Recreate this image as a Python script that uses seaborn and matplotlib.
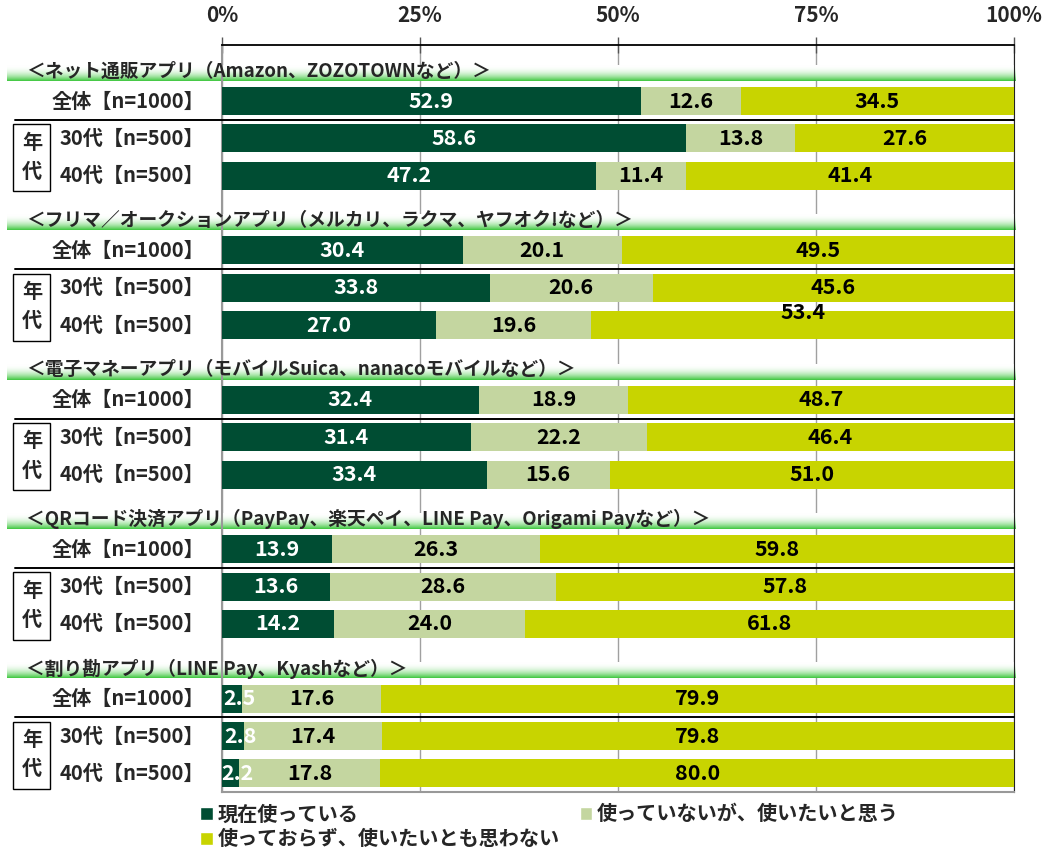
import numpy as np
import pandas as pd
import matplotlib
matplotlib.use('Agg')
import matplotlib.pyplot as plt
from matplotlib.patches import Patch, Rectangle
import seaborn as sns

categories = ['＜ネット通販アプリ（Amazon、ZOZOTOWNなど）＞',
              '＜フリマ／オークションアプリ（メルカリ、ラクマ、ヤフオク!など）＞',
              '＜電子マネーアプリ（モバイルSuica、nanacoモバイルなど）＞',
              '＜QRコード決済アプリ（PayPay、楽天ペイ、LINE Pay、Origami Payなど）＞',
              '＜割り勘アプリ（LINE Pay、Kyashなど）＞']
rows = ['全体【n=1000】', '30代【n=500】', '40代【n=500】']

using = [52.9, 58.6, 47.2, 30.4, 33.8, 27.0, 32.4, 31.4, 33.4, 13.9, 13.6, 14.2, 2.5, 2.8, 2.2]
want = [12.6, 13.8, 11.4, 20.1, 20.6, 19.6, 18.9, 22.2, 15.6, 26.3, 28.6, 24.0, 17.6, 17.4, 17.8]
no_want = [34.5, 27.6, 41.4, 49.5, 45.6, 53.4, 48.7, 46.4, 51.0, 59.8, 57.8, 61.8, 79.9, 79.8, 80.0]

series_names = ['現在使っている', '使っていないが、使いたいと思う', '使っておらず、使いたいとも思わない']
colors = ['#004d33', '#c4d6a0', '#c8d400']
tick_vals = [0, 25, 50, 75, 100]
tick_labels = ['0%', '25%', '50%', '75%', '100%']

sns.set_style('white')
plt.rcParams['font.family'] = ['Noto Sans CJK JP', 'DejaVu Sans']
plt.rcParams['font.weight'] = 'bold'

# one slot per header + one per bar
slots = []
recs = []
for gi in range(len(categories)):
    slots.append(f'h{gi}')
    recs.append(dict(slot=f'h{gi}', a=np.nan, ab=np.nan, abc=np.nan))
    for ri in range(len(rows)):
        k = gi * 3 + ri
        s = f'{gi}-{ri}'
        slots.append(s)
        recs.append(dict(slot=s, a=using[k], ab=using[k] + want[k],
                         abc=using[k] + want[k] + no_want[k]))
df = pd.DataFrame(recs)

fig = plt.figure(figsize=(10.44, 8.51), dpi=100)
ax = fig.add_axes([0.2126, 0.0693, 0.7587, 0.8778])

for col, c in zip(['abc', 'ab', 'a'], colors[::-1]):
    sns.barplot(data=df, y='slot', x=col, order=slots, color=c, width=0.75,
                saturation=1, errorbar=None, linewidth=0, ax=ax, zorder=3)

ax.set_xlim(0, 100)
ax.set_ylim(len(slots) - 0.5, -0.5)

# value labels
for gi in range(len(categories)):
    for ri in range(len(rows)):
        k = gi * 3 + ri
        y = gi * 4 + 1 + ri
        a, b, c = using[k], want[k], no_want[k]
        kw = dict(ha='center', va='center', fontsize=15.5, fontweight='bold', zorder=5)
        ax.text(a / 2 + (0.9 if a < 5 else 0), y, f'{a:.1f}', color='white', **kw)
        ax.text(a + b / 2, y, f'{b:.1f}', color='black', **kw)
        dy = -0.33 if k == 5 else 0
        ax.text(a + b + c / 2, y + dy, f'{c:.1f}', color='black', **kw)

# group headers with green gradient band
grad = np.linspace(0, 1, 64) ** 2.2
g0 = np.array([1, 1, 1])
g1 = np.array([0.24, 0.78, 0.24])
img = (g0[None, :] * (1 - grad[:, None]) + g1[None, :] * grad[:, None])[:, None, :]
xl = (7 - 222) / 7.92
for gi, cat in enumerate(categories):
    yh = gi * 4
    ax.imshow(img, extent=[xl, 100.2, yh + 0.46, yh + 0.04], origin='upper',
              aspect='auto', clip_on=False, zorder=1)
    ax.text((26 - 222) / 7.92, yh + 0.2, cat, ha='left', va='center',
            fontsize=13.5, fontweight='bold', zorder=6, clip_on=False)
    for ri, r in enumerate(rows):
        ax.text(-2.2, yh + 1 + ri, r, ha='right', va='center', fontsize=14.5,
                fontweight='bold', clip_on=False)
    ax.plot([(15 - 222) / 7.92, 100], [yh + 1.5, yh + 1.5], color='black',
            lw=1.4, clip_on=False, zorder=4)
    ax.add_patch(Rectangle(((13 - 222) / 7.92, yh + 1.62), 37 / 7.92, 1.8,
                           fill=False, edgecolor='black', lw=1, clip_on=False))
    ax.text((32 - 222) / 7.92, yh + 2.1, '年', ha='center', va='center',
            fontsize=14.5, fontweight='bold', clip_on=False)
    ax.text((32 - 222) / 7.92, yh + 2.88, '代', ha='center', va='center',
            fontsize=14.5, fontweight='bold', clip_on=False)
ax.set_ylim(len(slots) - 0.5, -0.5)
ax.set_xlim(0, 100)

# axes styling
ax.xaxis.tick_top()
ax.set_xticks(tick_vals)
ax.set_xticklabels(tick_labels, fontsize=15, fontweight='bold')
ax.tick_params(axis='x', direction='inout', length=12, width=1, color='#555555', pad=8)
ax.set_yticks(np.arange(len(slots) + 1) - 0.5)
ax.set_yticklabels([])
ax.tick_params(axis='y', direction='out', length=4, width=1, color='#999999')
ax.set_xlabel('')
ax.set_ylabel('')
ax.grid(axis='x', color='#a0a0a0', lw=1, zorder=0)
ax.set_axisbelow(True)
ax.spines['top'].set_color('black')
ax.spines['top'].set_linewidth(1.3)
ax.spines['right'].set_color('#222222')
ax.spines['left'].set_color('#999999')
ax.spines['left'].set_linewidth(1.5)
ax.spines['bottom'].set_color('#999999')
ax.spines['bottom'].set_linewidth(1.5)

handles = [Patch(facecolor=colors[0]), Patch(facecolor=colors[2]), Patch(facecolor=colors[1])]
labels = [series_names[0], series_names[2], series_names[1]]
fig.legend(handles, labels, ncol=2, loc='upper left', bbox_to_anchor=(0.192, 0.056),
           frameon=False, prop={'weight': 'bold', 'size': 14.5},
           handlelength=0.6, handleheight=0.6, handletextpad=0.25,
           columnspacing=1.0, labelspacing=0.2, borderpad=0, borderaxespad=0)

fig.savefig('out.png', dpi=100)
